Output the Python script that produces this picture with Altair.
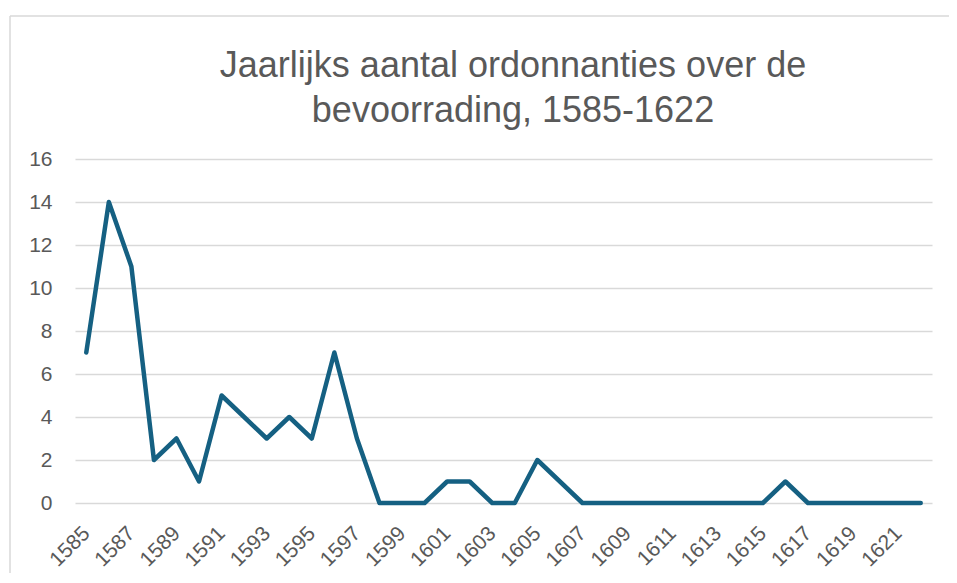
import altair as alt
import pandas as pd

years = list(range(1585, 1623))
counts = [7, 14, 11, 2, 3, 1, 5, 4, 3, 4, 3, 7, 3, 0, 0, 0, 1, 1, 0, 0,
          2, 1, 0, 0, 0, 0, 0, 0, 0, 0, 0, 1, 0, 0, 0, 0, 0, 0]
tick_years = list(range(1585, 1623, 2))
y_ticks = list(range(0, 17, 2))
title_lines = ["Jaarlijks aantal ordonnanties over de", "bevoorrading, 1585-1622"]

df = pd.DataFrame({"jaar": years, "aantal": counts})

label_color = "#595959"
grid_color = "#d9d9d9"
font = "Liberation Sans"

line = alt.Chart(df).mark_line(
    color="#156082", strokeWidth=4.5, strokeJoin="round", strokeCap="round"
).encode(
    x=alt.X("jaar:Q",
            scale=alt.Scale(domain=[1584.5, 1622.5], nice=False, zero=False),
            axis=alt.Axis(values=tick_years, format="d", title=None, grid=False,
                          ticks=False, domain=False, labelAngle=-45,
                          labelAlign="right", labelBaseline="middle",
                          labelPadding=27, labelFontSize=21,
                          labelColor=label_color, labelFont=font,
                          labelOverlap=False)),
    y=alt.Y("aantal:Q",
            scale=alt.Scale(domain=[0, 16], nice=False),
            axis=alt.Axis(values=y_ticks, title=None, grid=True,
                          gridColor=grid_color, gridWidth=1.5,
                          ticks=False, domain=False, labelPadding=23,
                          labelFontSize=21, labelColor=label_color,
                          labelFont=font)),
)

one_row = alt.Data(values=[{"a": 1}])
border_top = alt.Chart(one_row).mark_rule(
    color=grid_color, strokeWidth=1.5, clip=False
).encode(x=alt.value(-65), x2=alt.value(900), y=alt.value(-143))
border_left = alt.Chart(one_row).mark_rule(
    color=grid_color, strokeWidth=1.5, clip=False
).encode(x=alt.value(-65), y=alt.value(-143), y2=alt.value(460))

title1 = alt.Chart(alt.Data(values=[{"t": title_lines[0]}])).mark_text(
    font=font, fontSize=36, color=label_color, align="center",
    baseline="alphabetic", clip=False
).encode(x=alt.value(438), y=alt.value(-82), text="t:N")

title2 = alt.Chart(alt.Data(values=[{"t": title_lines[1]}])).mark_text(
    font=font, fontSize=36, color=label_color, align="center",
    baseline="alphabetic", clip=False
).encode(x=alt.value(438), y=alt.value(-37), text="t:N")

chart = alt.layer(border_top, border_left, title1, title2, line).properties(
    width=857, height=344,
    autosize=alt.AutoSizeParams(type="none"),
    padding={"left": 67, "top": 151, "right": 17, "bottom": 70},
).configure_view(stroke=None)

chart.save("out.html", embed_options={"renderer": "svg", "actions": False})
